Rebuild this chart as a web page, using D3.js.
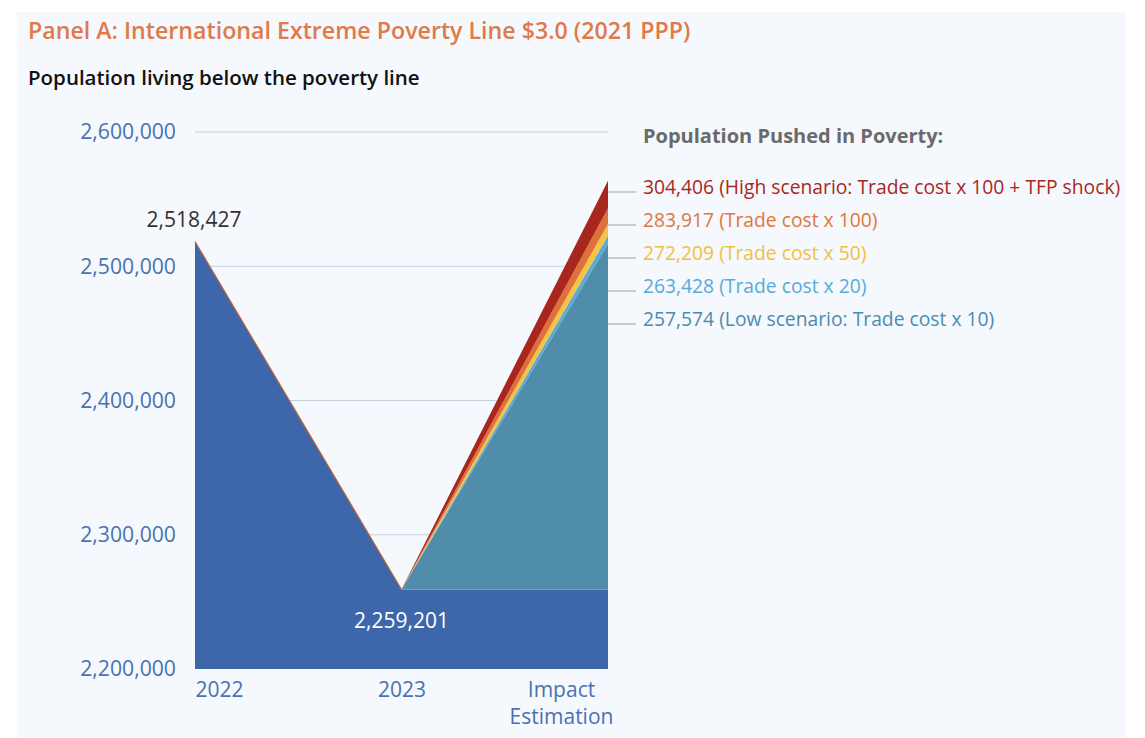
<!DOCTYPE html>
<html>
<head>
<meta charset="utf-8">
<script src="https://cdn.jsdelivr.net/npm/d3@7"></script>
<style>
  html, body { margin: 0; padding: 0; background: #ffffff; }
  svg { display: block; font-family: "Open Sans", sans-serif; }
</style>
</head>
<body>
<svg id="chart" width="1145" height="738"></svg>
<script>
// ---- data ----
const categories = ["2022", "2023", "Impact Estimation"];
const baseValues = [2518427, 2259201, 2259201];
const scenarioNames = [
  "Low scenario: Trade cost x 10",
  "Trade cost x 20",
  "Trade cost x 50",
  "Trade cost x 100",
  "High scenario: Trade cost x 100 + TFP shock"
];
const scenarioTotals = [257574, 263428, 272209, 283917, 304406];   // at Impact Estimation
const scenarioColors = ["#4f8dab", "#5ba9d6", "#f2c443", "#e0703a", "#a8261b"];
const labelColors    = ["#4a8cb0", "#5aaad8", "#efc23e", "#e0773d", "#a8281e"];
const yTicks = [2200000, 2300000, 2400000, 2500000, 2600000];
const baseAnnotations = ["2,518,427", "2,259,201"];

// ---- build stacked table ----
const keys = ["base", "s0", "s1", "s2", "s3", "s4"];
const rows = categories.map((c, i) => {
  const r = { cat: c, base: baseValues[i] };
  scenarioTotals.forEach((t, j) => {
    const prev = j === 0 ? 0 : scenarioTotals[j - 1];
    r["s" + j] = (i === categories.length - 1) ? (t - prev) : 0;
  });
  return r;
});
const stackData = d3.stack().keys(keys)(rows);

const svg = d3.select("#chart");
const FONT = "'Open Sans', sans-serif";

// panel background
svg.append("rect").attr("x", 17).attr("y", 12).attr("width", 1109).attr("height", 726)
  .attr("fill", "#f5f8fc");

const x = d3.scalePoint().domain(categories).range([195, 608]);
const y = d3.scaleLinear().domain([2200000, 2600000]).range([669, 132]);

// title / subtitle
svg.append("text").attr("x", 28).attr("y", 39)
  .attr("fill", "#e07a4b").attr("font-size", 23.2).attr("font-weight", 600)
  .text("Panel A: International Extreme Poverty Line $3.0 (2021 PPP)");
svg.append("text").attr("x", 28).attr("y", 85)
  .attr("fill", "#111").attr("font-size", 20.5).attr("font-weight", 600)
  .text("Population living below the poverty line");

// gridlines
svg.append("g").selectAll("line").data(yTicks.filter(t => t > 2200000)).join("line")
  .attr("x1", 195).attr("x2", 608)
  .attr("y1", d => y(d)).attr("y2", d => y(d))
  .attr("stroke", "#c4cfdc").attr("stroke-width", 1);

// y axis
const yAxis = svg.append("g").attr("transform", "translate(176,0)")
  .call(d3.axisLeft(y).tickValues(yTicks).tickSize(0).tickPadding(0)
    .tickFormat(d3.format(",")));
yAxis.select(".domain").remove();
yAxis.selectAll("text").attr("fill", "#4a72b0").attr("font-size", 21.2)
  .attr("font-family", FONT);

// areas
const area = d3.area()
  .x(d => x(d.data.cat))
  .y0(d => y(Math.max(d[0], 2200000)))
  .y1(d => y(d[1]));
const colors = ["#3d67aa"].concat(scenarioColors);
svg.append("g").selectAll("path").data(stackData).join("path")
  .attr("d", area)
  .attr("fill", (d, i) => colors[i]);

// thin edge along the top of the stack
const topLayer = stackData[stackData.length - 1];
svg.append("path")
  .datum(topLayer.slice(0, 2))
  .attr("d", d3.line().x(d => x(d.data.cat)).y(d => y(d[1])))
  .attr("fill", "none").attr("stroke", "#c4622f").attr("stroke-width", 1.2);

// x axis
const xAxis = svg.append("g").attr("transform", "translate(0,682)")
  .call(d3.axisBottom(x).tickSize(0).tickPadding(0));
xAxis.select(".domain").remove();
xAxis.selectAll("text").attr("fill", "#4a72b0").attr("font-size", 21)
  .attr("font-family", FONT).attr("dy", "0.71em")
  .each(function(d, i) {
    const t = d3.select(this);
    if (i === 0) t.attr("text-anchor", "start");
    if (i === categories.length - 1) {
      const words = d.split(" ");
      t.text(null);
      words.forEach((w, k) => t.append("tspan").attr("x", -47)
        .attr("dy", k === 0 ? "0.71em" : 27).text(w));
    }
  });

// annotations
svg.append("text").attr("x", x(categories[0]) - 1).attr("y", 227).attr("text-anchor", "middle")
  .attr("fill", "#333").attr("font-size", 21).text(baseAnnotations[0]);
svg.append("text").attr("x", x(categories[1])).attr("y", 628).attr("text-anchor", "middle")
  .attr("fill", "#ffffff").attr("font-size", 21).text(baseAnnotations[1]);

// legend title
svg.append("text").attr("x", 643).attr("y", 143)
  .attr("fill", "#6a6a6a").attr("font-size", 20).attr("font-weight", 700)
  .text("Population Pushed in Poverty:");

// scenario labels with leader lines (top = high scenario)
const fmt = d3.format(",");
const order = d3.range(scenarioTotals.length).reverse();
const lg = svg.append("g");
order.forEach((j, k) => {
  const ly = 187 + k * 33;
  lg.append("line").attr("x1", 608).attr("x2", 636)
    .attr("y1", ly + 5).attr("y2", ly + 5)
    .attr("stroke", "#9aa3ad").attr("stroke-width", 1);
  lg.append("text").attr("x", 643).attr("y", ly).attr("dy", "0.35em")
    .attr("fill", labelColors[j]).attr("font-size", 19.3)
    .text(fmt(scenarioTotals[j]) + " (" + scenarioNames[j] + ")");
});
</script>
</body>
</html>
